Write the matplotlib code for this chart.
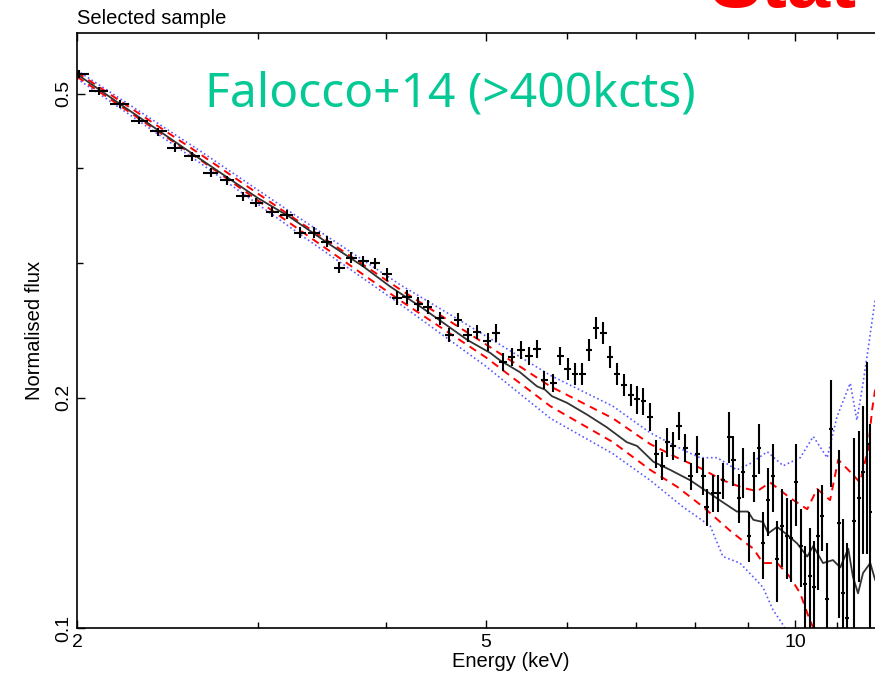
import matplotlib
matplotlib.use('Agg')
import matplotlib.pyplot as plt
from matplotlib.ticker import FixedLocator, NullFormatter, FixedFormatter

# data points (keV, normalised flux, 1-sigma error)
energy = [2.01, 2.10, 2.20, 2.30, 2.40, 2.49, 2.59, 2.70, 2.80, 2.90,
          2.99, 3.10, 3.20, 3.30, 3.40, 3.50, 3.60, 3.70, 3.80, 3.90,
          4.01, 4.10, 4.19, 4.30, 4.39, 4.51, 4.61, 4.70, 4.80, 4.90,
          5.02, 5.12, 5.20, 5.30, 5.41, 5.51, 5.61, 5.70, 5.82, 5.91,
          6.01, 6.11, 6.21, 6.30, 6.40, 6.51, 6.61, 6.71, 6.82, 6.93,
          7.02, 7.12, 7.23, 7.33, 7.43, 7.51, 7.61, 7.71, 7.82, 7.92,
          8.03, 8.14, 8.21, 8.33, 8.42, 8.51, 8.63, 8.71, 8.82, 8.90,
          9.02, 9.13, 9.23, 9.31, 9.42, 9.52, 9.61, 9.72, 9.83, 9.92,
          10.03, 10.14, 10.23, 10.35, 10.44, 10.53, 10.63, 10.74, 10.85, 11.04,
          11.14, 11.24, 11.42, 11.55, 11.65, 11.76, 11.84]
flux = [0.531, 0.504, 0.485, 0.461, 0.446, 0.425, 0.414, 0.394, 0.385, 0.367,
        0.360, 0.350, 0.347, 0.329, 0.329, 0.320, 0.296, 0.305, 0.302, 0.300,
        0.290, 0.270, 0.271, 0.265, 0.263, 0.254, 0.242, 0.253, 0.242, 0.244,
        0.237, 0.243, 0.223, 0.226, 0.231, 0.227, 0.232, 0.211, 0.209, 0.227,
        0.218, 0.215, 0.215, 0.231, 0.247, 0.243, 0.226, 0.215, 0.208, 0.202,
        0.199, 0.198, 0.189, 0.169, 0.163, 0.175, 0.173, 0.184, 0.172, 0.158,
        0.169, 0.158, 0.144, 0.150, 0.150, 0.156, 0.178, 0.166, 0.148, 0.160,
        0.132, 0.158, 0.172, 0.129, 0.147, 0.158, 0.123, 0.136, 0.132, 0.131,
        0.155, 0.128, 0.114, 0.117, 0.113, 0.132, 0.140, 0.109, 0.182, 0.137,
        0.111, 0.103, 0.138, 0.148, 0.160, 0.174, 0.142]
flux_err = [0.0064, 0.0060, 0.0058, 0.0055, 0.0054, 0.0058, 0.0056, 0.0054, 0.0052, 0.0050,
            0.0049, 0.0048, 0.0047, 0.0055, 0.0055, 0.0053, 0.0049, 0.0051, 0.0050, 0.0050,
            0.0061, 0.0057, 0.0057, 0.0056, 0.0055, 0.0053, 0.0051, 0.0053, 0.0051, 0.0051,
            0.0064, 0.0066, 0.0060, 0.0061, 0.0062, 0.0061, 0.0063, 0.0057, 0.0056, 0.0061,
            0.0072, 0.0071, 0.0071, 0.0076, 0.0082, 0.0080, 0.0075, 0.0071, 0.0069, 0.0067,
            0.0084, 0.0083, 0.0079, 0.0071, 0.0068, 0.0074, 0.0073, 0.0077, 0.0072, 0.0066,
            0.0093, 0.0087, 0.0079, 0.0083, 0.0083, 0.0086, 0.0134, 0.0125, 0.0110, 0.0120,
            0.0099, 0.0120, 0.0130, 0.0130, 0.0150, 0.0160, 0.0150, 0.0160, 0.0160, 0.0160,
            0.0190, 0.0150, 0.0140, 0.0180, 0.0170, 0.0200, 0.0140, 0.0200, 0.0290, 0.0340,
            0.0280, 0.0260, 0.0390, 0.0330, 0.0350, 0.0490, 0.0430]
bin_half = 0.045

# model (black)
model_e = [2.0, 2.25, 2.5, 2.75, 3.0, 3.22, 3.53, 3.80, 4.03, 4.34, 4.54, 4.80,
           5.05, 5.16, 5.40, 5.61, 5.71, 5.80, 6.00, 6.28, 6.56, 6.86, 7.02, 7.28,
           7.56, 7.91, 8.14, 8.51, 8.78, 9.00, 9.11, 9.31, 9.42, 9.61, 9.83, 10.05,
           10.28, 10.42, 10.65, 10.89, 11.07, 11.27, 11.39, 11.52, 11.65, 11.84, 11.97]
model_f = [0.530, 0.475, 0.431, 0.395, 0.365, 0.345, 0.317, 0.297, 0.280, 0.262, 0.251, 0.238,
           0.229, 0.224, 0.216, 0.207, 0.205, 0.201, 0.197, 0.190, 0.183, 0.175, 0.173, 0.165,
           0.161, 0.156, 0.152, 0.146, 0.142, 0.142, 0.1385, 0.1376, 0.133, 0.1356, 0.1324, 0.129,
           0.124, 0.128, 0.1216, 0.1227, 0.120, 0.127, 0.1166, 0.111, 0.118, 0.1216, 0.1156]

# red dashed envelope
red_up_e = [2.0, 2.64, 3.30, 4.13, 5.00, 5.78, 6.65, 7.23, 7.68, 8.08, 8.51, 8.90,
            9.19, 9.46, 9.89, 10.28, 10.51, 10.82, 11.02, 11.32, 11.57, 11.78, 11.89, 11.97]
red_up_f = [0.533, 0.416, 0.339, 0.277, 0.235, 0.207, 0.188, 0.174, 0.167, 0.162, 0.156, 0.1525,
            0.151, 0.155, 0.148, 0.143, 0.152, 0.147, 0.166, 0.160, 0.155, 0.171, 0.193, 0.205]
red_lo_e = [2.0, 2.64, 3.30, 4.13, 5.00, 5.78, 6.65, 7.23, 7.68, 8.14, 8.65, 8.90,
            9.11, 9.31, 9.61, 9.89, 10.12, 10.28, 10.42, 10.58]
red_lo_f = [0.526, 0.409, 0.331, 0.268, 0.226, 0.195, 0.175, 0.161, 0.153, 0.144, 0.134, 0.130,
            0.127, 0.1216, 0.1216, 0.1166, 0.111, 0.1046, 0.100, 0.095]

# blue dotted envelope
blue_up_e = [2.0, 2.64, 3.30, 4.13, 5.00, 5.78, 6.65, 7.23, 7.78, 8.08, 8.40, 8.78,
             9.04, 9.40, 9.74, 10.12, 10.42, 10.75, 10.99, 11.32, 11.49, 11.65, 11.78, 11.97]
blue_up_f = [0.536, 0.420, 0.343, 0.281, 0.241, 0.214, 0.195, 0.180, 0.171, 0.167, 0.167, 0.161,
             0.164, 0.170, 0.163, 0.167, 0.178, 0.167, 0.189, 0.209, 0.187, 0.209, 0.231, 0.269]
blue_lo_e = [2.0, 2.64, 3.30, 4.13, 5.00, 5.78, 6.65, 7.23, 7.78, 8.27, 8.51, 8.84,
             9.11, 9.31, 9.52, 9.74, 9.89]
blue_lo_f = [0.523, 0.405, 0.327, 0.265, 0.220, 0.188, 0.169, 0.156, 0.144, 0.136, 0.124, 0.1216,
             0.1166, 0.113, 0.1056, 0.1009, 0.0965]

plt.rcParams['font.family'] = ['Liberation Sans', 'DejaVu Sans']

fig = plt.figure(figsize=(8.75, 6.83), dpi=100)
ax = fig.add_axes([77/875, 55/683, 868/875, 595/683])
ax.set_xscale('log')
ax.set_yscale('log')

ax.plot(blue_up_e, blue_up_f, color='#5b5bff', lw=1.2, ls=(0, (1, 1.6)))
ax.plot(blue_lo_e, blue_lo_f, color='#5b5bff', lw=1.2, ls=(0, (1, 1.6)))
ax.plot(red_up_e, red_up_f, color='red', lw=1.4, ls=(0, (4, 3)))
ax.plot(red_lo_e, red_lo_f, color='red', lw=1.4, ls=(0, (4, 3)))
ax.plot(model_e, model_f, color='#333333', lw=1.3)
ax.errorbar(energy, flux, yerr=flux_err, xerr=bin_half, fmt='none',
            ecolor='black', elinewidth=1.5, capsize=0)

ax.set_xlim(2, 14)
ax.set_ylim(0.1, 0.6)

ax.xaxis.set_major_locator(FixedLocator([2, 5, 10]))
ax.xaxis.set_major_formatter(FixedFormatter(['2', '5', '10']))
ax.xaxis.set_minor_locator(FixedLocator([3, 4, 6, 7, 8, 9, 11, 12, 13]))
ax.xaxis.set_minor_formatter(NullFormatter())
ax.yaxis.set_major_locator(FixedLocator([0.1, 0.2, 0.5]))
ax.yaxis.set_major_formatter(FixedFormatter(['0.1', '0.2', '0.5']))
ax.yaxis.set_minor_locator(FixedLocator([0.3, 0.4]))
ax.yaxis.set_minor_formatter(NullFormatter())

ax.tick_params(which='both', direction='in', top=True, right=True, width=1.0, labelsize=14)
ax.tick_params(which='major', length=6)
ax.tick_params(which='minor', length=4)
ax.tick_params(axis='x', pad=4)
for lab in ax.get_yticklabels():
    lab.set_rotation(90)
    lab.set_va('center')
for s in ax.spines.values():
    s.set_linewidth(1.2)

ax.set_xlabel('Energy (keV)', fontsize=14.5, labelpad=1)
ax.set_ylabel('Normalised flux', fontsize=14.5, labelpad=8)

fig.text(77/875, 1 - 24/683, 'Selected sample', fontsize=14.5, va='baseline', ha='left')
fig.text(205/875, 1 - 107/683, 'Falocco+14 (>400kcts)', fontsize=34.5, color='#05c994',
         family='Noto Sans', va='baseline', ha='left')
fig.text(710/875, 1 - 7/683, 'Stat', fontsize=56, color='red', fontweight='bold',
         va='baseline', ha='left')

fig.savefig('out.png', dpi=100)
